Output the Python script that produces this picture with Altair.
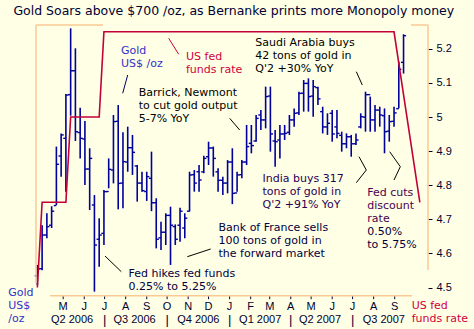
import altair as alt
import pandas as pd

TITLE = "Gold Soars above $700 /oz, as Bernanke prints more Monopoly money"

# ---- weekly gold bars (US$/oz) ----
week_end = [d.strftime("%Y-%m-%d") for d in pd.date_range("2006-03-24", periods=78, freq="7D")]
gold_high = [561.7, 590.0, 598.5, 603.5, 646.0, 655.4, 683.5, 730.2, 716.0, 673.7,
             664.2, 644.8, 611.5, 595.0, 615.1, 637.6, 668.5, 675.6, 656.2, 660.2,
             654.3, 632.9, 628.1, 628.1, 642.4, 609.2, 592.5, 598.5, 603.2, 590.6,
             602.5, 598.5, 628.1, 629.3, 632.9, 639.5, 649.5, 646.0, 630.5, 624.6,
             636.4, 644.8, 628.1, 636.4, 661.4, 661.4, 668.5, 672.1, 688.7, 688.7,
             657.8, 661.4, 661.4, 668.5, 673.2, 685.1, 693.4, 694.6, 693.4, 688.7,
             674.4, 669.7, 672.1, 672.1, 656.6, 655.4, 654.3, 655.4, 669.7, 685.1,
             681.6, 675.6, 674.4, 673.2, 668.5, 674.4, 706.5, 726.0]
gold_low = [547.4, 558.0, 580.7, 588.0, 604.4, 624.6, 613.9, 668.0, 650.0, 637.6,
            618.6, 600.8, 542.7, 560.5, 575.9, 616.3, 619.8, 601.3, 602.0, 628.1,
            625.8, 606.8, 613.9, 607.3, 600.0, 573.5, 572.4, 575.9, 561.7, 575.9,
            578.3, 580.7, 599.7, 613.9, 613.9, 627.0, 632.9, 624.6, 613.9, 611.5,
            612.7, 605.0, 613.9, 623.4, 632.9, 641.2, 649.5, 657.8, 659.0, 642.4,
            631.7, 637.6, 650.7, 654.3, 660.2, 668.5, 670.9, 670.9, 667.3, 675.6,
            655.4, 654.3, 649.5, 651.9, 642.4, 644.8, 638.8, 647.1, 659.0, 656.6,
            656.6, 656.6, 660.2, 641.2, 649.5, 660.2, 673.3, 698.0]
gold_open = [554.0, 559.0, 583.0, 590.0, 604.0, 639.3, 651.9, 683.0, 700.0, 656.0,
             651.4, 630.0, 604.4, 580.0, 584.2, 614.0, 629.3, 664.0, 620.0, 635.0,
             645.2, 632.2, 620.0, 614.0, 623.4, 606.0, 581.0, 585.0, 597.0, 589.0,
             590.0, 588.0, 600.0, 626.0, 628.1, 628.0, 638.8, 645.0, 628.0, 622.0,
             620.0, 635.0, 613.0, 626.0, 635.0, 648.3, 650.0, 668.5, 665.0, 682.0,
             650.0, 650.7, 655.0, 656.2, 665.0, 670.0, 684.0, 691.0, 682.0, 688.0,
             670.9, 660.0, 669.7, 660.0, 654.0, 648.0, 653.0, 648.0, 660.0, 667.0,
             683.0, 665.0, 672.0, 668.0, 657.0, 664.0, 673.0, 706.0]
gold_close = [559.0, 583.0, 589.0, 600.0, 633.4, 654.3, 682.7, 700.0, 656.6, 651.9,
              630.0, 637.6, 575.9, 583.0, 613.9, 629.8, 663.8, 619.8, 635.3, 645.2,
              641.9, 620.0, 614.6, 624.6, 606.0, 580.0, 585.0, 597.0, 590.0, 580.0,
              600.0, 595.0, 625.8, 620.0, 622.2, 637.6, 645.0, 637.6, 622.0, 620.0,
              635.0, 612.7, 625.8, 635.0, 646.0, 646.7, 666.1, 665.0, 681.6, 655.0,
              649.5, 655.0, 655.4, 665.0, 669.7, 683.9, 691.0, 681.6, 688.7, 680.0,
              660.0, 662.6, 655.0, 655.4, 648.0, 653.0, 648.0, 650.7, 667.3, 683.0,
              665.0, 672.0, 668.5, 656.6, 663.8, 670.0, 701.0, 725.0]

# ---- US fed funds rate (%) ----
rate_dates = ["2006-03-24", "2006-03-31", "2006-05-05", "2006-05-12", "2006-06-23",
              "2006-06-30", "2007-08-31", "2007-10-08"]
rate_values = [4.50, 4.75, 4.75, 5.00, 5.00, 5.25, 5.25, 4.75]

# ---- axis labels ----
month_dates = ["2006-05-01", "2006-06-01", "2006-07-01", "2006-08-01", "2006-09-01",
               "2006-10-01", "2006-11-01", "2006-12-01", "2007-01-01", "2007-02-01",
               "2007-03-01", "2007-04-01", "2007-05-01", "2007-06-01", "2007-07-01",
               "2007-08-01", "2007-09-01"]
month_letters = ["M", "J", "J", "A", "S", "O", "N", "D", "J", "F", "M", "A", "M", "J",
                 "J", "A", "S"]
gold_ticks = [560, 580, 600, 620, 640, 660, 680, 700, 720]
rate_ticks = [4.5, 4.6, 4.7, 4.8, 4.9, 5.0, 5.1, 5.2]
quarter_labels = ["Q2 2006", "Q3 2006", "Q4 2006", "Q1 2007", "Q2 2007", "Q3 2007"]
quarter_mid = ["2006-05-14", "2006-08-14", "2006-11-16", "2007-02-15", "2007-05-14", "2007-08-16"]
quarter_breaks = ["2006-07-01", "2006-10-01", "2007-01-01", "2007-04-01", "2007-07-01"]

# ---- annotation texts ----
txt_gold = ["Gold", "US$ /oz"]
txt_fed = ["US fed", "funds rate"]
txt_barrick = ["Barrick, Newmont", "to cut gold output", "5-7% YoY"]
txt_saudi = ["Saudi Arabia buys", "42 tons of gold in", "Q'2 +30% YoY"]
txt_india = ["India buys 317", "tons of gold in", "Q'2 +91% YoY"]
txt_france = ["Bank of France sells", "100 tons of gold in", "the forward market"]
txt_hikes = ["Fed hikes fed funds", "0.25% to 5.25%"]
txt_cuts_a = ["Fed cuts", "discount", "rate"]
txt_cuts_b = ["0.50%", "to 5.75%"]
txt_gold_axis = ["Gold", "US$", "/oz"]
txt_fed_axis = ["US fed", "funds rate"]

# ---- styling ----
BG = "#FFFFE6"
FRAME = "#F9C994"
BLUE = "#00009C"
RED = "#C4003A"
NAVY = "#000033"
GOLDTXT = "#3232C8"
PURPLE = "#4A0050"
W, H = 392, 270.7

gold = pd.DataFrame({"week": week_end, "high": gold_high, "low": gold_low,
                     "open": gold_open, "close": gold_close})
rate = pd.DataFrame({"date": rate_dates, "rate": rate_values})
months = pd.DataFrame({"date": month_dates, "label": month_letters})
quarters = pd.DataFrame({"date": quarter_mid, "label": quarter_labels})
breaks = pd.DataFrame({"date": quarter_breaks, "label": ["|"] * len(quarter_breaks)})
one = pd.DataFrame({"k": [0]})

xscale = alt.Scale(domain=[alt.DateTime(year=2006, month=3, date=22),
                           alt.DateTime(year=2007, month=10, date=20)])
gscale = alt.Scale(domain=[539.8, 732.6], nice=False, zero=False)
rscale = alt.Scale(domain=[4.476, 5.27], nice=False, zero=False)

g_axis = alt.Axis(values=gold_ticks, title=None, domain=False, grid=False, tickSize=3,
                  tickColor=NAVY, labelColor=NAVY, labelFont="DejaVu Sans",
                  labelFontSize=11, labelPadding=3, labelOverlap=False)
r_axis = alt.Axis(orient="right", values=rate_ticks, format="~g", title=None, domain=False,
                  grid=False, tickSize=4, tickColor=NAVY, labelColor=NAVY,
                  labelFont="Liberation Sans", labelFontSize=11, labelPadding=4,
                  labelOverlap=False)

hl = alt.Chart(gold).mark_rule(color=BLUE, strokeWidth=1.6).encode(
    x=alt.X("week:T", scale=xscale, axis=None),
    y=alt.Y("high:Q", scale=gscale, axis=g_axis),
    y2="low:Q")
op = alt.Chart(gold).mark_rule(color=BLUE, strokeWidth=1.4, xOffset=-2.6).encode(
    x=alt.X("week:T", scale=xscale, axis=None), x2="week:T",
    y=alt.Y("open:Q", scale=gscale, axis=None))
cl = alt.Chart(gold).mark_rule(color=BLUE, strokeWidth=1.4, x2Offset=2.6).encode(
    x=alt.X("week:T", scale=xscale, axis=None), x2="week:T",
    y=alt.Y("close:Q", scale=gscale, axis=None))
gold_layer = alt.layer(hl, op, cl)

rate_line = alt.Chart(rate).mark_line(color=RED, strokeWidth=1.6).encode(
    x=alt.X("date:T", scale=xscale, axis=None),
    y=alt.Y("rate:Q", scale=rscale, axis=r_axis))

m_ticks = alt.Chart(months).mark_rule(color=NAVY, strokeWidth=1).encode(
    x=alt.X("date:T", scale=xscale, axis=None), y=alt.value(H + 0.5), y2=alt.value(H + 3.5))
m_text = alt.Chart(months).mark_text(font="Liberation Sans", fontSize=11, color=NAVY,
                                     baseline="middle").encode(
    x=alt.X("date:T", scale=xscale, axis=None), y=alt.value(H + 11.5), text="label:N")
q_text = alt.Chart(quarters).mark_text(font="Liberation Sans", fontSize=11, color=NAVY,
                                       baseline="middle").encode(
    x=alt.X("date:T", scale=xscale, axis=None), y=alt.value(H + 24), text="label:N")
b_text = alt.Chart(breaks).mark_text(font="Liberation Sans", fontSize=13, color=NAVY,
                                     baseline="middle").encode(
    x=alt.X("date:T", scale=xscale, axis=None), y=alt.value(H + 24), text="label:N")


def note(lines, x, y, color, font="DejaVu Sans", size=11, lh=13, align="left"):
    return alt.Chart(one).mark_text(text=lines, font=font, fontSize=size, color=color,
                                    align=align, baseline="alphabetic",
                                    lineHeight=lh).encode(x=alt.value(x), y=alt.value(y))


def seg(x1, y1, x2, y2, color="#000000", w=1.0):
    return alt.Chart(one).mark_rule(color=color, strokeWidth=w).encode(
        x=alt.value(x1), y=alt.value(y1), x2=alt.value(x2), y2=alt.value(y2))


title_mark = note(TITLE, 197.8, -10.5, NAVY, size=12.5, align="center")

notes = [
    note(txt_gold, 85, 29, GOLDTXT),
    note(txt_fed, 150, 35, "#D0003C"),
    note(txt_barrick, 102.7, 70.7, "#000000"),
    note(txt_saudi, 219.3, 20.5, "#000000"),
    note(txt_india, 226.5, 156.5, "#2A0055"),
    note(txt_france, 182.5, 205.7, "#000040"),
    note(txt_hikes, 92.5, 252.3, "#000040"),
    note(txt_cuts_a, 331.3, 170.7, PURPLE, lh=13.2),
    note(txt_cuts_b, 331.3, 210.3, "#000040", lh=13.2),
    note(txt_gold_axis, -27.7, 270.7, GOLDTXT, lh=13),
    note(txt_fed_axis, 375.7, 284, "#D0003C", lh=13),
]
pointers = [
    seg(91.7, 50, 86.7, 68.3, "#000066"),
    seg(132.7, 13.3, 142.7, 29.3, "#C8003C"),
    seg(193.7, 93.3, 203.7, 105),
    seg(320.3, 46.7, 326.3, 60),
    seg(323, 131.7, 330.3, 145),
    seg(330.3, 145, 320.3, 157.7),
    seg(353.7, 126.7, 364.3, 141.7),
    seg(364.3, 141.7, 358, 155),
    seg(151.3, 231.7, 174.7, 224),
    seg(69, 231, 85.3, 246.7),
]
frame = [
    seg(0, 0, 0, 258, FRAME, 1.5),
    seg(14, H, 376, H, FRAME, 1.5),
    seg(W, 0, W, 245, FRAME, 1.5),
    seg(0, 0, 67, 0, FRAME, 1.5),
    seg(375, 0, W, 0, FRAME, 1.5),
]

chart = alt.layer(gold_layer, rate_line, m_ticks, m_text, q_text, b_text, *frame, *pointers,
                  *notes, title_mark).resolve_scale(
    y="independent"
).properties(
    width=W, height=H,
    autosize=alt.AutoSizeParams(type="none"),
    padding={"left": 36, "top": 25, "right": 46, "bottom": 33.3},
    background=BG,
).configure_view(stroke=None)

chart.save("out.html", embed_options={"renderer": "svg", "actions": False})
